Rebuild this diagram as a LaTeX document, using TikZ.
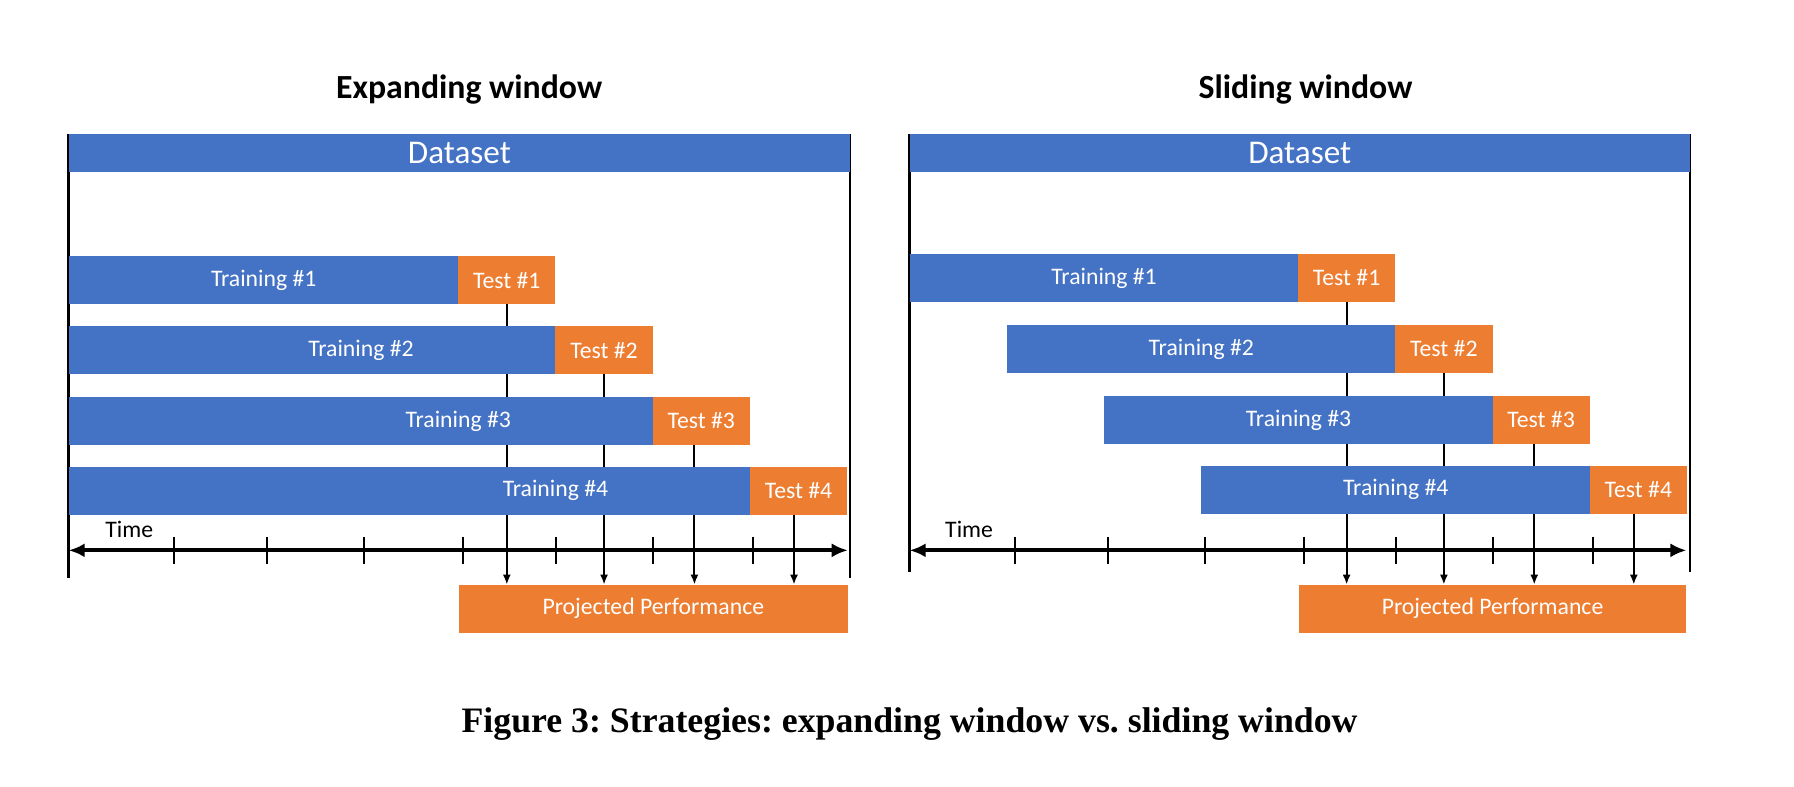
\documentclass[tikz,border=0pt]{standalone}
\usepackage{fontspec}
\setmainfont{Carlito}
\newfontfamily\capfont{Liberation Serif}
\usetikzlibrary{positioning,arrows.meta,backgrounds}
\definecolor{dsblue}{HTML}{4472C4}
\definecolor{tsorange}{HTML}{ED7D31}
\newlength\pxl
\setlength\pxl{0.02cm}
\tikzset{
  barbox/.style={rectangle, inner sep=0pt, outer sep=0pt, minimum height=42*\pxl, text=white, font=\fontsize{11.8}{13}\selectfont},
  trainbar/.style={barbox, fill=dsblue, anchor=north west, minimum width=341*\pxl},
  testbar/.style={barbox, fill=tsorange, minimum width=85*\pxl},
  perfbox/.style={barbox, fill=tsorange, anchor=north west, minimum width=340*\pxl},
  databar/.style={rectangle, inner sep=0pt, outer sep=0pt, fill=dsblue, anchor=north west, minimum height=33*\pxl, text=white, font=\fontsize{16.5}{18}\selectfont},
  wintitle/.style={anchor=base, font=\bfseries\fontsize{16.8}{19}\selectfont},
  captext/.style={anchor=base, font=\capfont\bfseries\frenchspacing\fontsize{17.8}{20}\selectfont},
  timelabel/.style={inner sep=0pt, font=\fontsize{11.8}{13}\selectfont},
  panelline/.style={line width=1.2pt},
  timeaxis/.style={line width=2pt, {Latex[length=8pt,width=7pt]}-{Latex[length=8pt,width=7pt]}},
  axtick/.style={line width=1pt},
  projarrow/.style={line width=1pt, -{Latex[length=5pt,width=4pt]}},
}
\begin{document}
\begin{tikzpicture}[x=0.02cm,y=-0.02cm]
\useasboundingbox (0,0) rectangle (1568,687);
% titles
\node[wintitle] (exptitle) at (410,86) {Expanding window};
\node[wintitle] (slidtitle) at (1141,86) {Sliding window};

% expanding window
\draw[panelline] (60,117) -- (60,505);
\draw[panelline] (743,117) -- (743,505);
\node[databar, minimum width=683*\pxl] (expdata) at (60,117) {Dataset};
\node[trainbar] (etr1) at (60,224) {Training \#1};
\node[testbar, right=-0.3pt of etr1] (ete1) {Test \#1};
\node[trainbar] (etr2) at (145,285) {Training \#2};
\node[testbar, right=-0.3pt of etr2] (ete2) {Test \#2};
\node[trainbar] (etr3) at (230,347) {Training \#3};
\node[testbar, right=-0.3pt of etr3] (ete3) {Test \#3};
\node[trainbar] (etr4) at (315,408) {Training \#4};
\node[testbar, right=-0.3pt of etr4] (ete4) {Test \#4};
\fill[dsblue] (60,285) rectangle ([xshift=3*\pxl]etr2.south west);
\fill[dsblue] (60,347) rectangle ([xshift=3*\pxl]etr3.south west);
\fill[dsblue] (60,408) rectangle ([xshift=3*\pxl]etr4.south west);
\node[timelabel] (etime) at (113,463) {Time};
\draw[timeaxis] (60,481) -- (741,481);
\foreach \tx in {152,233,318,405,486,571,658}
  \draw[axtick] (\tx,469) -- (\tx,493);
\node[perfbox] (epp) at (401,511) {Projected Performance};
\begin{pgfonlayer}{background}
\draw[projarrow] (ete1.south) -- (ete1.south |- epp.north);
\draw[projarrow] (ete2.south) -- (ete2.south |- epp.north);
\draw[projarrow] ([xshift=-6*\pxl]ete3.south) -- ([xshift=-6*\pxl]ete3.south |- epp.north);
\draw[projarrow] ([xshift=-4*\pxl]ete4.south) -- ([xshift=-4*\pxl]ete4.south |- epp.north);
\end{pgfonlayer}

% sliding window
\draw[panelline] (795,117) -- (795,500);
\draw[panelline] (1477,117) -- (1477,500);
\node[databar, minimum width=682*\pxl] (slidata) at (795,117) {Dataset};
\node[trainbar, minimum width=340*\pxl] (str1) at (795,222) {Training \#1};
\node[testbar, right=-0.3pt of str1] (ste1) {Test \#1};
\node[trainbar, minimum width=340*\pxl] (str2) at (880,284) {Training \#2};
\node[testbar, right=-0.3pt of str2] (ste2) {Test \#2};
\node[trainbar, minimum width=340*\pxl] (str3) at (965,346) {Training \#3};
\node[testbar, right=-0.3pt of str3] (ste3) {Test \#3};
\node[trainbar, minimum width=340*\pxl] (str4) at (1050,407) {Training \#4};
\node[testbar, right=-0.3pt of str4] (ste4) {Test \#4};
\node[timelabel] (stime) at (847,463) {Time};
\draw[timeaxis] (795,481) -- (1474,481);
\foreach \tx in {887,968,1053,1140,1220,1305,1392}
  \draw[axtick] (\tx,469) -- (\tx,493);
\node[perfbox, minimum width=339*\pxl] (spp) at (1135,511) {Projected Performance};
\begin{pgfonlayer}{background}
\draw[projarrow] (ste1.south) -- (ste1.south |- spp.north);
\draw[projarrow] (ste2.south) -- (ste2.south |- spp.north);
\draw[projarrow] ([xshift=-6*\pxl]ste3.south) -- ([xshift=-6*\pxl]ste3.south |- spp.north);
\draw[projarrow] ([xshift=-4*\pxl]ste4.south) -- ([xshift=-4*\pxl]ste4.south |- spp.north);
\end{pgfonlayer}

% caption
\node[captext] (figcap) at (795,640) {Figure 3: Strategies: expanding window vs.\ sliding window};
\end{tikzpicture}
\end{document}
